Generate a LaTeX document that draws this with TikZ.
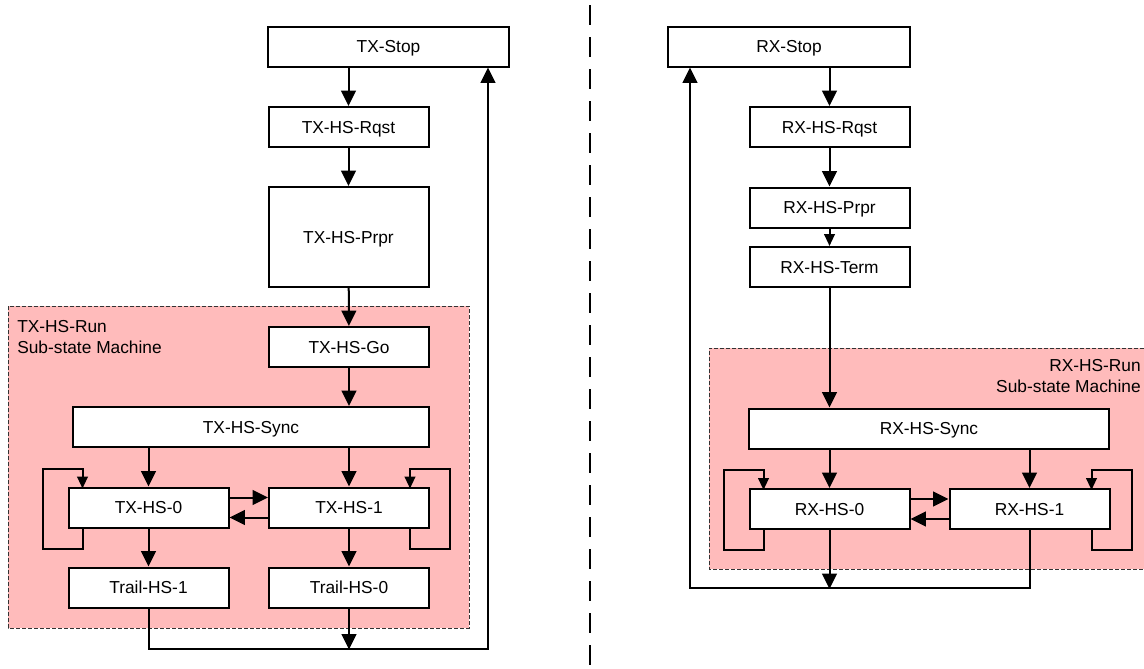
\documentclass[tikz,border=0pt]{standalone}
\usepackage{fontspec}
\setmainfont{Liberation Sans}
\usetikzlibrary{arrows.meta, positioning, calc}
\definecolor{runpink}{RGB}{255,187,187}
\tikzset{
	state/.style={rectangle, draw, fill=white, line width=1.5pt, minimum width=120pt, minimum height=30pt, inner sep=0pt, text height=9.3pt, text depth=0pt, font=\fontsize{13}{15.75}\selectfont},
	flow/.style={draw, line width=1.5pt, -{Triangle[length=11.5pt, width=11pt]}},
	small_flow/.style={draw, line width=1.5pt, -{Triangle[length=9pt, width=8pt]}},
	run_fill/.style={fill=runpink},
	run_border/.style={draw=black!80, line width=0.6pt, dash pattern=on 3pt off 1.5pt},
	run_label/.style={inner sep=0pt, font=\fontsize{13}{15.75}\selectfont}
}

\begin{document}
\begin{tikzpicture}[x=0.75pt, y=-0.75pt]
	\useasboundingbox (0,0) rectangle (1144,668);
	
	% Sub-state machine areas (drawn first, under the states)
	\path[run_fill, run_border] (8,306) rectangle (469,628);
	\path[run_fill] (709,348) rectangle (1144,569);
	\draw[run_border] (1144,348) -- (709,348) -- (709,569) -- (1144,569);
	\node[run_label, anchor=north west, align=left] (tx_run_label) at (17,320) {TX-HS-Run\\Sub-state Machine};
	\node[run_label, anchor=north east, align=right] (rx_run_label) at (1141,359) {RX-HS-Run\\Sub-state Machine};
	
	% divider between the two sides
	\coordinate (divider_top) at (590,5);
	\coordinate (divider_bottom) at (590,668);
	\draw[line width=1.5pt, dash pattern=on 15pt off 9pt] (divider_top) -- (divider_bottom);
	
	%
	% TX side (left)
	%
	\node[state, minimum width=180.75pt] (tx_stop) at (388.5,46.5) {TX-Stop};
	\node[state] (tx_hs_rqst) at (348.5,127) {TX-HS-Rqst};
	\node[state, minimum height=75pt] (tx_hs_prpr) at ($(tx_hs_rqst)+(0,110)$) {TX-HS-Prpr};
	\node[state] (tx_hs_go) at ($(tx_hs_prpr)+(0.5,110)$) {TX-HS-Go};
	\node[state, minimum width=267pt] (tx_hs_sync) at (251,427) {TX-HS-Sync};
	\node[state] (tx_hs_0) at (148.5,507.5) {TX-HS-0};
	\node[state] (tx_hs_1) at ($(tx_hs_0)+(200.5,0)$) {TX-HS-1};
	\node[state] (trail_hs_1) at ($(tx_hs_0)+(0,80)$) {Trail-HS-1};
	\node[state] (trail_hs_0) at ($(tx_hs_1)+(0,80)$) {Trail-HS-0};
	
	% main path
	\draw[flow] (tx_stop.south -| tx_hs_rqst) -- (tx_hs_rqst);
	\draw[flow] (tx_hs_rqst) -- (tx_hs_prpr);
	\draw[flow] (tx_hs_prpr) -- (tx_hs_go);
	\draw[flow] (tx_hs_go) -- (tx_hs_sync.north -| tx_hs_go);
	\draw[flow] (tx_hs_sync.south -| tx_hs_0) -- (tx_hs_0);
	\draw[flow] (tx_hs_sync.south -| tx_hs_1) -- (tx_hs_1);
	
	% between the two HS states
	\draw[flow] ($(tx_hs_0.east)+(0,-10)$) -- ($(tx_hs_1.west)+(0,-10)$);
	\draw[flow] ($(tx_hs_1.west)+(0,10)$) -- ($(tx_hs_0.east)+(0,10)$);
	
	% self loops
	\draw[small_flow] ($(tx_hs_0.south west)+(15,0)$) -- ++(0,20) -- ++(-40,0) -- ++(0,-80) -- ++(40,0) -- ++(0,20);
	\draw[small_flow] ($(tx_hs_1.south east)+(-20,0)$) -- ++(0,20) -- ++(40,0) -- ++(0,-80) -- ++(-40,0) -- ++(0,20);
	
	\draw[flow] (tx_hs_0) -- (trail_hs_1);
	\draw[flow] (tx_hs_1) -- (trail_hs_0);
	
	% return to TX-Stop
	\coordinate (tx_merge) at ($(trail_hs_0.south)+(0,41)$);
	\coordinate (tx_return) at (488,649);
	\draw[flow] (trail_hs_0) -- (tx_merge);
	\draw[flow] (trail_hs_1) |- (tx_return) -- (tx_return |- tx_stop.south);
	
	%
	% RX side (right)
	%
	\node[state, minimum width=181.5pt] (rx_stop) at (789,46.5) {RX-Stop};
	\node[state] (rx_hs_rqst) at (829.5,127) {RX-HS-Rqst};
	\node[state] (rx_hs_prpr) at ($(rx_hs_rqst)+(0,80.5)$) {RX-HS-Prpr};
	\node[state] (rx_hs_term) at ($(rx_hs_prpr)+(0,59.5)$) {RX-HS-Term};
	\node[state, minimum width=270pt] (rx_hs_sync) at (929,428.5) {RX-HS-Sync};
	\node[state] (rx_hs_0) at (829.5,509) {RX-HS-0};
	\node[state] (rx_hs_1) at ($(rx_hs_0)+(200,0)$) {RX-HS-1};
	
	% main path
	\draw[flow] (rx_stop.south -| rx_hs_rqst) -- (rx_hs_rqst);
	\draw[flow] (rx_hs_rqst) -- (rx_hs_prpr);
	\draw[small_flow] (rx_hs_prpr) -- (rx_hs_term);
	\draw[flow] (rx_hs_term) -- (rx_hs_sync.north -| rx_hs_term);
	\draw[flow] (rx_hs_sync.south -| rx_hs_0) -- (rx_hs_0);
	\draw[flow] (rx_hs_sync.south -| rx_hs_1) -- (rx_hs_1);
	
	% between the two HS states
	\draw[flow] ($(rx_hs_0.east)+(0,-10)$) -- ($(rx_hs_1.west)+(0,-10)$);
	\draw[flow] ($(rx_hs_1.west)+(0,10)$) -- ($(rx_hs_0.east)+(0,10)$);
	
	% self loops
	\draw[small_flow] ($(rx_hs_0.south west)+(15,0)$) -- ++(0,20) -- ++(-40,0) -- ++(0,-80) -- ++(40,0) -- ++(0,20);
	\draw[small_flow] ($(rx_hs_1.south east)+(-19,0)$) -- ++(0,20) -- ++(40,0) -- ++(0,-80) -- ++(-40,0) -- ++(0,20);
	
	% return to RX-Stop
	\coordinate (rx_merge) at ($(rx_hs_0.south)+(0,59)$);
	\coordinate (rx_return) at (690,588);
	\draw[flow] (rx_hs_0) -- (rx_merge);
	\draw[flow] (rx_hs_1) |- (rx_return) -- (rx_return |- rx_stop.south);
	
\end{tikzpicture}
\end{document}
